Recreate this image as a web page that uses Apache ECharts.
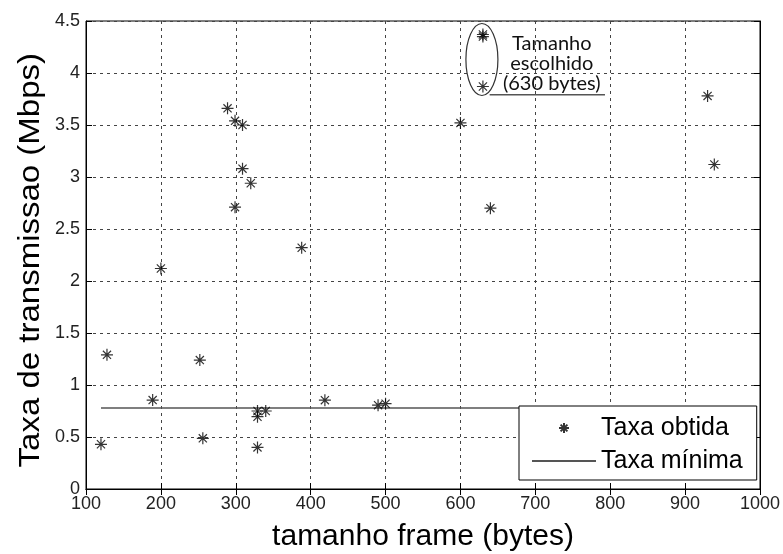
<!DOCTYPE html>
<html>
<head>
<meta charset="utf-8">
<script src="https://cdn.jsdelivr.net/npm/echarts@6/dist/echarts.min.js"></script>
<style>
  html, body { margin: 0; padding: 0; background: #fff; }
  #chart { width: 783px; height: 554px; }
</style>
</head>
<body>
<div id="chart"></div>
<script>
// frame size (bytes) vs. obtained rate (Mbps)
const frameSizes = [120, 128, 189, 200, 252, 256, 289, 299, 299, 309, 309, 320,
  329, 329, 329, 340, 388, 419, 490, 500, 600, 630, 630, 630, 640, 930, 939];
const rates = [0.43, 1.29, 0.855, 2.12, 1.24, 0.487, 3.66, 3.54, 2.71, 3.50, 3.08, 2.94,
  0.695, 0.75, 0.40, 0.75, 2.32, 0.854, 0.806, 0.82, 3.52, 4.37, 4.35, 3.87, 2.70, 3.78, 3.12];

// minimum rate line
const minRateX = [120, 940];
const minRate = 0.78;

const xTicks = [100, 1000, 100]; // min, max, interval
const yTicks = [0, 4.5, 0.5];

const yTitle = "Taxa de transmissao (Mbps)";
const annotationLines = ["Tamanho", "escolhido", "(630 bytes)"];

const STAR = "path://M5,0L5,10M0,5L10,5M1.6,1.6L8.4,8.4M1.6,8.4L8.4,1.6";
const FONT = "Liberation Sans";

const chart = echarts.init(document.getElementById("chart"));

const gridLine = { show: true, lineStyle: { color: "#444", type: [3, 4], width: 1 } };

chart.setOption({
  backgroundColor: "#fff",
  animation: false,
  grid: {
    left: 86, right: 23, top: 21, bottom: 65,
    outerBoundsMode: "none",
    show: true, borderColor: "#000", borderWidth: 1,
  },
  legend: {
    orient: "vertical",
    left: 519,
    top: 406,
    z: 10,
    backgroundColor: "#fff",
    borderColor: "#000",
    borderWidth: 1,
    borderRadius: 0,
    padding: [9, 14, 6, 12],
    itemWidth: 64,
    itemHeight: 10,
    itemGap: 7,
    symbolKeepAspect: true,
    textStyle: { fontFamily: FONT, fontSize: 25, color: "#000", lineHeight: 26, padding: [0, 0, 0, 0] },
    data: ["Taxa obtida", "Taxa mínima"],
  },
  xAxis: [
    {
      type: "value",
      min: xTicks[0],
      max: xTicks[1],
      interval: xTicks[2],
      name: "tamanho frame (bytes)",
      nameLocation: "middle",
      nameGap: 33,
      nameTextStyle: { fontFamily: FONT, fontSize: 30, color: "#000" },
      axisLine: { show: true, lineStyle: { color: "#000" } },
      axisTick: { show: true, inside: true, length: 6, lineStyle: { color: "#000" } },
      axisLabel: { fontFamily: FONT, fontSize: 18, color: "#222", margin: 6, formatter: (v) => String(v) },
      splitLine: gridLine,
    },
    {
      type: "value",
      position: "top",
      min: xTicks[0],
      max: xTicks[1],
      interval: xTicks[2],
      axisLine: { show: true, lineStyle: { color: "#000" } },
      axisTick: { show: true, inside: true, length: 6, lineStyle: { color: "#000" } },
      axisLabel: { show: false },
      splitLine: { show: false },
    },
  ],
  yAxis: [
    {
      type: "value",
      min: yTicks[0],
      max: yTicks[1],
      interval: yTicks[2],
      axisLine: { show: true, lineStyle: { color: "#000" } },
      axisTick: { show: true, inside: true, length: 6, lineStyle: { color: "#000" } },
      axisLabel: { fontFamily: FONT, fontSize: 18, color: "#222", margin: 6, formatter: (v) => String(v) },
      splitLine: gridLine,
    },
    {
      type: "value",
      position: "right",
      min: yTicks[0],
      max: yTicks[1],
      interval: yTicks[2],
      axisLine: { show: true, lineStyle: { color: "#000" } },
      axisTick: { show: true, inside: true, length: 6, lineStyle: { color: "#000" } },
      axisLabel: { show: false },
      splitLine: { show: false },
    },
  ],
  series: [
    {
      name: "Taxa obtida",
      type: "scatter",
      symbol: STAR,
      symbolSize: 12,
      itemStyle: { color: "transparent", borderColor: "#000", borderWidth: 1.2 },
      data: frameSizes.map((x, i) => [x, rates[i]]),
      z: 5,
    },
    {
      name: "Taxa mínima",
      type: "line",
      symbol: "none",
      itemStyle: { color: "transparent", borderWidth: 0 },
      lineStyle: { color: "#555", width: 1.5 },
      data: minRateX.map((x) => [x, minRate]),
      z: 3,
    },
  ],
});

// annotation around the chosen frame size
const px = (x, y) => chart.convertToPixel({ xAxisIndex: 0, yAxisIndex: 0 }, [x, y]);
const eC = px(630, 4.13);
const tC = px(722, 4.09);
const u0 = px(639, 3.79);
const u1 = px(793, 3.79);
const yMid = px(100, 2.2);

chart.setOption({
  graphic: [
    {
      // y axis title, stretched along its length like the source figure
      type: "text",
      x: 31,
      y: yMid[1],
      rotation: Math.PI / 2,
      scaleX: 1.1,
      style: {
        text: yTitle,
        font: '30px "Liberation Sans"',
        fill: "#000",
        align: "center",
        verticalAlign: "middle",
      },
    },
    {
      type: "ellipse",
      shape: { cx: eC[0] - 1, cy: eC[1], rx: 16, ry: 36 },
      style: { fill: "none", stroke: "#333", lineWidth: 1.2 },
      z: 10,
    },
    {
      type: "line",
      shape: { x1: u0[0], y1: u0[1], x2: u1[0], y2: u1[1] },
      style: { stroke: "#555", lineWidth: 1.5 },
      z: 10,
    },
    {
      type: "text",
      x: tC[0],
      y: tC[1],
      style: {
        text: annotationLines.join("\n"),
        font: '20px "Lato"',
        fill: "#111",
        align: "center",
        verticalAlign: "middle",
        lineHeight: 20,
      },
      z: 10,
    },
  ],
});
</script>
</body>
</html>
